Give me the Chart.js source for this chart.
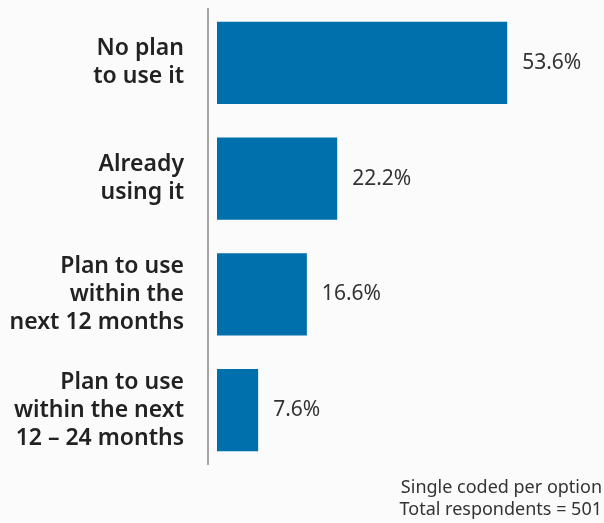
<!DOCTYPE html>
<html>
<head>
<meta charset="utf-8">
<script src="https://cdn.jsdelivr.net/npm/chart.js@4/dist/chart.umd.min.js"></script>
<style>
  html, body { margin: 0; padding: 0; background: #fbfbfb; }
  #wrap { width: 604px; height: 523px; }
</style>
</head>
<body>
<div id="wrap"><canvas id="c"></canvas></div>
<script>
// Survey answers (single coded per option, n = 501)
const categories = [
  ["No plan", "to use it"],
  ["Already", "using it"],
  ["Plan to use", "within the", "next 12 months"],
  ["Plan to use", "within the next", "12 \u2013 24 months"]
];
const shares = [53.6, 22.2, 16.6, 7.6];
const footnote = ["Single coded per option", "Total respondents = 501"];

const FONT = "'Noto Sans', 'Open Sans', sans-serif";

const decor = {
  id: 'decor',
  beforeDraw(chart) {
    const ctx = chart.ctx;
    ctx.save();
    ctx.fillStyle = '#fbfbfb';
    ctx.fillRect(0, 0, chart.width, chart.height);
    ctx.restore();
  },
  afterDatasetsDraw(chart) {
    const ctx = chart.ctx;
    const area = chart.chartArea;
    ctx.save();
    // vertical axis line
    ctx.strokeStyle = '#8a8a8a';
    ctx.lineWidth = 1.5;
    ctx.beginPath();
    ctx.moveTo(area.left, area.top + 3);
    ctx.lineTo(area.left, area.bottom - 3);
    ctx.stroke();

    // value labels
    ctx.fillStyle = '#333333';
    ctx.font = '21px ' + FONT;
    ctx.textAlign = 'left';
    ctx.textBaseline = 'middle';
    chart.getDatasetMeta(0).data.forEach((bar, i) => {
      ctx.fillText(shares[i].toFixed(1) + '%', bar.x + 15, bar.y);
    });

    // footnote
    ctx.font = '18px ' + FONT;
    ctx.textAlign = 'right';
    ctx.fillStyle = '#333333';
    ctx.fillText(footnote[0], chart.width - 2, 488);
    ctx.fillText(footnote[1], chart.width - 2, 510);
    ctx.restore();
  }
};

new Chart(document.getElementById('c'), {
  type: 'bar',
  data: {
    labels: categories,
    datasets: [{
      data: shares,
      backgroundColor: '#0070ac',
      borderWidth: 0,
      categoryPercentage: 0.71,
      barPercentage: 1.0
    }]
  },
  options: {
    indexAxis: 'y',
    responsive: true,
    maintainAspectRatio: false,
    animation: false,
    layout: { padding: { top: 5, right: 8, bottom: 55, left: 0 } },
    plugins: {
      legend: { display: false },
      tooltip: { enabled: false },
      title: { display: false }
    },
    scales: {
      x: {
        min: -1.66,
        max: 70,
        display: false,
        grid: { display: false }
      },
      y: {
        grid: { display: false, drawTicks: false },
        border: { display: false },
        ticks: {
          color: '#222222',
          padding: 24,
          font: { family: FONT, size: 23, weight: '600', lineHeight: 1.22 }
        },
        afterFit(scale) {
          scale.width = 208;
          scale.paddingTop = 0;
          scale.paddingBottom = 0;
        }
      }
    }
  },
  plugins: [decor]
});
</script>
</body>
</html>
